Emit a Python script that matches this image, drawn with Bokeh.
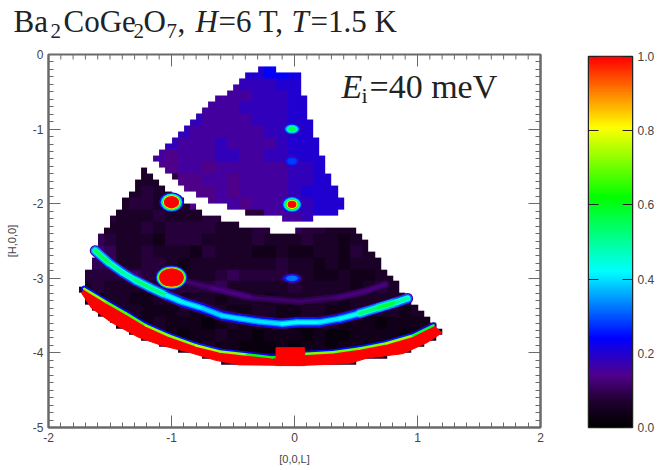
import numpy as np
from bokeh.core.properties import value
from bokeh.embed import file_html
from bokeh.resources import INLINE
from bokeh.layouts import row, column
from bokeh.models import (Range1d, LinearAxis, FixedTicker, LinearColorMapper, Label, PrintfTickFormatter)
from bokeh.plotting import figure

# ---------- colour scale stops ----------
stop_values = [0.0, 0.07, 0.14, 0.24, 0.42, 0.62, 0.81, 1.0]
stop_colors = [(0, 0, 0), (32, 0, 48), (80, 0, 140), (0, 0, 255),
               (0, 255, 255), (0, 255, 0), (255, 255, 0), (255, 0, 0)]
cbar_ticks = [0.0, 0.2, 0.4, 0.6, 0.8, 1.0]

# ---------- outlines of detector coverage, (L, H) ----------
upper_L = [-0.31, -0.19, -0.08, 0.06, 0.08, 0.20, 0.29, 0.41, 0.37, 0.15, -0.12, -0.34, -0.61, -0.86, -1.10, -1.13, -0.78]
upper_H = [-0.19, -0.13, -0.28, -0.28, -0.62, -1.29, -1.65, -2.05, -2.12, -2.20, -2.20, -2.16, -2.02, -1.82, -1.51, -1.38, -0.79]
bottom_L = [1.20, 1.08, 0.88, 0.59, 0.45, 0.04, -0.45, -0.64, -0.86, -1.08, -1.27, -1.49, -1.65, -1.73]
bottom_H = [-3.73, -3.86, -4.01, -4.07, -4.14, -4.17, -4.16, -4.10, -3.99, -3.90, -3.79, -3.59, -3.40, -3.20]
lower_L = [-1.21, -1.00, -0.72, -0.45, -0.07, 0.02, 0.29, 0.47, 0.88, 1.16] + bottom_L + [-1.73, -1.63, -1.58]
lower_H = [-1.51, -1.86, -2.13, -2.29, -2.39, -2.36, -2.32, -2.27, -3.20, -3.66] + bottom_H + [-3.12, -2.72, -2.45]

# ---------- background intensity, hex digit = intensity / 0.02 ----------
tex_L0, tex_dL = -1.85, 0.1
tex_H0, tex_dH = -0.02, 0.16
texture = [
    "aaaaa aaaaa aaaaa acccb aaaaa aaaaa a",
    "aaaaa aaaaa aaaaa accba aaaaa aaaaa a",
    "99999 99999 99989 99aaa aaaaa aaaaa a",
    "99999 99999 99888 999aa aaaaa aaaaa a",
    "88888 88899 98889 999aa aaaaa aaaaa a",
    "88888 888cc 98888 999aa aaaaa aaaaa a",
    "88888 888a9 88888 899aa aaaaa aaaaa a",
    "88888 88998 88988 889aa aaaaa aaaaa a",
    "77777 78878 88998 899aa aaaaa aaaaa a",
    "33333 33778 87888 88899 aaaaa aaaaa a",
    "33333 33347 78878 88899 aaaaa aaaaa a",
    "33433 34337 77878 8889a aaaaa aaaaa a",
    "43343 44333 77887 88899 aaaaa aaaaa a",
    "44343 33433 34444 48889 aaaaa aaaaa a",
    "44333 34344 44333 44454 43333 33333 3",
    "45543 33244 43333 43334 33233 33333 3",
    "56653 34333 24333 22322 33243 33333 3",
    "55553 34432 33333 33433 23233 33333 3",
    "44444 54432 33454 44433 22322 33343 3",
    "33433 33344 44533 33343 33323 43333 3",
    "23233 22332 33233 32333 33233 33333 3",
    "22333 32223 23322 33223 32232 33233 2",
    "33232 12322 21232 22112 23222 12222 3",
    "22322 23221 22322 12221 21122 22123 2",
    "33232 32322 23221 11212 21221 22212 3",
    "33333 33333 33333 33333 33333 33333 3",
]

# ---------- powder rings read along their ridges ----------
ring_L = [-1.62, -1.51, -1.40, -1.29, -1.18, -1.04, -0.91, -0.75, -0.59, -0.45, -0.29, -0.10, 0.02, 0.20, 0.37, 0.53, 0.69, 0.83, 0.92]
ring_H = [-2.63, -2.79, -2.92, -3.03, -3.12, -3.23, -3.32, -3.40, -3.50, -3.54, -3.58, -3.61, -3.59, -3.59, -3.54, -3.47, -3.39, -3.32, -3.27]
ring_I = [0.58, 0.52, 0.50, 0.48, 0.58, 0.46, 0.42, 0.40, 0.38, 0.42, 0.38, 0.42, 0.42, 0.42, 0.40, 0.46, 0.60, 0.55, 0.45]
faint_L = [-0.94, -0.67, -0.34, 0.04, 0.37, 0.56, 0.74]
faint_H = [-3.02, -3.13, -3.26, -3.31, -3.25, -3.18, -3.08]
faint_I = [0.09, 0.15, 0.12, 0.11, 0.12, 0.14, 0.12]
edge_L = [-1.71, -1.53, -1.37, -1.21, -1.02, -0.80, -0.61, -0.39, -0.18, 0.10, 0.31, 0.53, 0.75, 0.96, 1.13]
edge_H = [-3.14, -3.32, -3.47, -3.63, -3.77, -3.90, -3.98, -4.02, -4.06, -4.01, -3.99, -3.94, -3.87, -3.77, -3.63]
edge_I = [0.75, 0.70, 0.65, 0.70, 0.75, 0.70, 0.80, 0.65, 0.60, 0.62, 0.80, 0.60, 0.82, 0.65, 0.50]

# saturated band below the edge line, and the saturated peak on it
band_L = edge_L + bottom_L
band_H = edge_H + bottom_H
peak_L = [-0.15, 0.08, 0.08, -0.15]
peak_H = [-3.93, -3.93, -4.17, -4.17]

# ---------- Bragg peaks ----------
spot_L = [-1.00, -0.02, -1.00, -0.02, -0.02, -0.02]
spot_H = [-1.98, -2.01, -2.99, -1.00, -1.43, -3.00]
spot_I = [1.00, 1.00, 1.00, 0.55, 0.28, 0.32]
spot_wL = [0.20, 0.18, 0.26, 0.16, 0.13, 0.16]
spot_wH = [0.27, 0.24, 0.32, 0.17, 0.14, 0.13]
spot_core = [0.62, 0.40, 0.78, 0.40, 0.60, 0.60]

# ---------- texts ----------
x_ticks = [-2, -1, 0, 1, 2]
y_ticks = [0, -1, -2, -3, -4, -5]
x_minor = [round(-2 + 0.1 * i, 1) for i in range(41)]
y_minor = [round(-5 + 0.1 * i, 1) for i in range(51)]
x_title, y_title = "[0,0,L]", "[H,0,0]"
title_runs = [("Ba", 13, 31, "normal", 0), ("2", 50, 21, "normal", 1), ("CoGe", 63, 31, "normal", 0),
              ("2", 133, 21, "normal", 1), ("O", 143, 31, "normal", 0), ("7", 166, 21, "normal", 1),
              (",", 177, 31, "normal", 0), ("H", 195, 31, "italic", 0), ("=6 T,", 218, 31, "normal", 0),
              ("T", 291, 31, "italic", 0), ("=1.5 K", 310, 31, "normal", 0)]
ei_runs = [("E", 342, 34, "italic", 0), ("i", 362, 22, "normal", 1), ("=40 meV", 370, 34, "normal", 0)]


def shade(v):
    chans = [np.interp(v, stop_values, [c[k] for c in stop_colors]) for k in range(3)]
    return "#%02x%02x%02x" % tuple(int(round(c)) for c in chans)


palette = [shade(i / 255) for i in range(256)]
mapper = LinearColorMapper(palette=palette, low=0, high=1, nan_color="rgba(0,0,0,0)")


def inside(x, y, xs, ys):
    hit = False
    n = len(xs)
    for i in range(n):
        j = (i + 1) % n
        if (ys[i] > y) != (ys[j] > y) and x < xs[i] + (y - ys[i]) * (xs[j] - xs[i]) / (ys[j] - ys[i]):
            hit = not hit
    return hit


rows = [r.replace(" ", "") for r in texture]
cell_dL, cell_dH = 0.05, 0.08
L_min, L_max, H_min, H_max = -1.85, 1.25, -4.24, -0.08
n_col = int(round((L_max - L_min) / cell_dL))
n_row = int(round((H_max - H_min) / cell_dH))
grid = np.full((n_row, n_col), np.nan)
for r in range(n_row):
    H = H_min + (r + 0.5) * cell_dH
    for c in range(n_col):
        L = L_min + (c + 0.5) * cell_dL
        if inside(L, H, upper_L, upper_H) or inside(L, H, lower_L, lower_H):
            tr = min(int((tex_H0 - H) / tex_dH), len(rows) - 1)
            tc = min(int((L - tex_L0) / tex_dL), len(rows[0]) - 1)
            grid[r, c] = int(rows[tr][tc], 16) * 0.02

HEAD = 44
FRAME_L, FRAME_W, FRAME_TOP, FRAME_BOT = 49, 492, 54, 427
HEIGHT = 426
GREY = "#6a6a6a"
TXT = "#444444"

p = figure(width=570, height=HEIGHT, x_range=Range1d(-2, 2), y_range=Range1d(-5, 0),
           output_backend="svg", toolbar_location=None, x_axis_label=x_title, y_axis_label=y_title,
           min_border_left=FRAME_L - 1, min_border_right=570 - FRAME_L + 1 - FRAME_W,
           min_border_top=FRAME_TOP - HEAD, min_border_bottom=HEAD + HEIGHT - FRAME_BOT,
           frame_align=False)
p.grid.visible = False
p.outline_line_color = GREY
p.outline_line_width = 2

p.image(image=[grid], x=L_min, y=H_min, dw=L_max - L_min, dh=H_max - H_min, color_mapper=mapper)


def segments(xs, ys, vals, width, scale=1.0):
    sx = [[xs[i], xs[i + 1]] for i in range(len(xs) - 1)]
    sy = [[ys[i], ys[i + 1]] for i in range(len(ys) - 1)]
    col = [shade(scale * 0.5 * (vals[i] + vals[i + 1])) for i in range(len(xs) - 1)]
    p.multi_line(sx, sy, line_color=col, line_width=width, line_cap="round")


segments(faint_L, faint_H, faint_I, 7, 0.8)
segments(faint_L, faint_H, faint_I, 3)
for width, scale in [(11, 0.3), (9, 0.62), (6, 0.85), (3.5, 1.0)]:
    segments(ring_L, ring_H, ring_I, width, scale)

segments(edge_L, edge_H, edge_I, 6, 0.35)
p.patch(band_L, band_H, fill_color=shade(1.0), line_color=shade(1.0), line_width=1)
segments(edge_L, edge_H, edge_I, 2.5)
p.patch(peak_L, peak_H, fill_color=shade(1.0), line_color=shade(1.0), line_width=1)

for i in range(len(spot_L)):
    levels = [f for f in (0.16, 0.26, 0.36, 0.46, 0.62, 0.8) if f < spot_I[i]] + [spot_I[i]]
    n = len(levels)
    for k, level in enumerate(levels):
        frac = 1.0 - (1.0 - spot_core[i]) * k / max(1, n - 1)
        p.ellipse(spot_L[i], spot_H[i], width=spot_wL[i] * frac, height=spot_wH[i] * frac,
                  fill_color=shade(level), line_color=None)

# ticks along the top edge of the frame
top_major = 12 / (FRAME_BOT - FRAME_TOP) * 5
top_minor = 5 / (FRAME_BOT - FRAME_TOP) * 5
p.segment(x_minor, [0] * len(x_minor), x_minor, [-top_minor] * len(x_minor), line_color=GREY, line_width=1)
p.segment(x_ticks, [0] * len(x_ticks), x_ticks, [-top_major] * len(x_ticks), line_color=GREY, line_width=1)

for ax in (p.xaxis[0], p.yaxis[0]):
    ax.major_tick_in, ax.major_tick_out = 12, 0
    ax.minor_tick_in, ax.minor_tick_out = 5, 0
    ax.axis_line_color = GREY
    ax.axis_line_width = 2
    ax.major_tick_line_color = GREY
    ax.minor_tick_line_color = GREY
    ax.major_label_text_font = "Liberation Sans"
    ax.major_label_text_font_size = "12px"
    ax.major_label_text_color = TXT
    ax.axis_label_text_font = "Liberation Sans"
    ax.axis_label_text_font_style = "normal"
    ax.axis_label_text_font_size = "11px"
    ax.axis_label_text_color = TXT

p.xaxis[0].ticker = FixedTicker(ticks=x_ticks, minor_ticks=x_minor)
p.yaxis[0].ticker = FixedTicker(ticks=y_ticks, minor_ticks=y_minor)
p.xaxis[0].major_label_overrides = {t: str(t) for t in x_ticks}
p.yaxis[0].major_label_overrides = {t: str(t) for t in y_ticks}
p.xaxis[0].axis_label_standoff = 8
p.yaxis[0].axis_label_standoff = 12

ax = LinearAxis(ticker=FixedTicker(ticks=y_ticks, minor_ticks=y_minor), major_label_text_color=None,
                major_tick_in=12, major_tick_out=0, minor_tick_in=5, minor_tick_out=0,
                axis_line_color=GREY, axis_line_width=2, major_tick_line_color=GREY, minor_tick_line_color=GREY,
                major_label_text_font_size="1px", major_label_standoff=0)
p.add_layout(ax, "right")


def to_L(x):
    return (x - FRAME_L) / FRAME_W * 4 - 2


def to_H(y):
    return -(y - FRAME_TOP) / (FRAME_BOT - FRAME_TOP) * 5


for text, x, size, style, sub in ei_runs:
    p.add_layout(Label(x=to_L(x), y=to_H(86 + sub * 9), text=text, text_font="Liberation Serif",
                       text_font_size=f"{size}px", text_font_style=style, text_color="#222222",
                       text_baseline="alphabetic", text_align="left"))

# heading strip above the plot
h = figure(width=670, height=HEAD, x_range=Range1d(0, 670), y_range=Range1d(HEAD, 0),
           output_backend="svg", toolbar_location=None, min_border=0, outline_line_color=None)
h.grid.visible = False
h.xaxis.visible = False
h.yaxis.visible = False
for text, x, size, style, sub in title_runs:
    h.text([x], [21 + sub * 9], text=[text], text_font=value("Liberation Serif"),
           text_font_size=value(f"{size}px"), text_font_style=style, text_color="#222222",
           text_baseline="alphabetic", text_align="left")

# colour bar
c = figure(width=100, height=HEIGHT, x_range=Range1d(0, 1), y_range=Range1d(0, 1),
           output_backend="svg", toolbar_location=None, frame_align=False,
           min_border_left=18, min_border_right=38, min_border_top=56 - HEAD, min_border_bottom=HEAD + HEIGHT - FRAME_BOT)
c.grid.visible = False
c.xaxis.visible = False
c.yaxis.visible = False
c.outline_line_color = "#222222"
c.outline_line_width = 1.5
c.image(image=[np.arange(256).reshape(256, 1) / 255], x=0, y=0, dw=1, dh=1, color_mapper=mapper)
for loc in ("left", "right"):
    ax = LinearAxis(ticker=FixedTicker(ticks=cbar_ticks), major_tick_in=10, major_tick_out=0, minor_tick_in=0,
                    minor_tick_out=0, axis_line_color="#222222", major_tick_line_color="#222222",
                    major_label_text_font="Liberation Sans", major_label_text_font_size="12px",
                    major_label_text_color=TXT, formatter=PrintfTickFormatter(format="%.1f"))
    if loc == "left":
        ax.major_label_text_color = None
        ax.major_label_text_font_size = "1px"
    c.add_layout(ax, loc)

page = column(h, row(p, c, spacing=0), spacing=0)
open("out.html", "w").write(file_html(page, INLINE))
